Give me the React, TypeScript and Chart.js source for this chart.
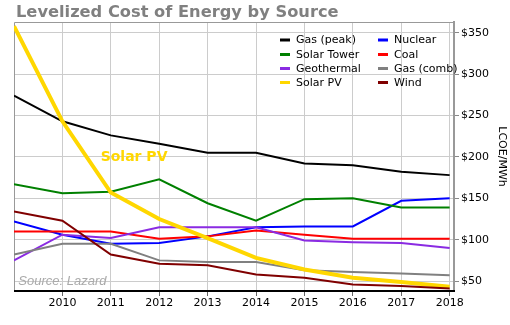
import React, { useEffect, useRef } from 'react';
import { Chart, registerables } from 'chart.js';

Chart.register(...registerables);

const years = [2009, 2010, 2011, 2012, 2013, 2014, 2015, 2016, 2017, 2018];
const gasPeak = [274, 243, 226, 216, 205, 205, 192, 190, 182, 178];
const nuclear = [122, 106, 95, 96, 104, 115, 116, 116, 147, 150];
const solarTower = [167, 156, 158, 173, 144, 123, 149, 150, 139, 139];
const coal = [110, 110, 110, 101, 104, 111, 106, 101, 101, 101];
const geothermal = [75, 106, 102, 115, 115, 115, 99, 97, 96, 90];
const gasComb = [82, 95, 95, 75, 73, 73, 63, 61, 59, 57];
const solarPV = [358, 243, 157, 125, 102, 78, 64, 54, 49, 43];
const wind = [134, 123, 82, 71, 69, 58, 54, 46, 44, 41];

const xTickYears = [2010, 2011, 2012, 2013, 2014, 2015, 2016, 2017, 2018];
const yTickValues = [50, 100, 150, 200, 250, 300, 350];

const titleText = 'Levelized Cost of Energy by Source';
const yAxisTitle = 'LCOE/MWh';
const sourceNote = 'Source: Lazard';
const solarLabel = 'Solar PV';

// legend order (row-major, 2 columns)
const legendOrder = ['Gas (peak)', 'Nuclear', 'Solar Tower', 'Coal', 'Geothermal', 'Gas (comb)', 'Solar PV', 'Wind'];

const series = [
  { label: 'Wind', data: wind, color: '#800000', width: 2 },
  { label: 'Solar PV', data: solarPV, color: '#FFD700', width: 4 },
  { label: 'Gas (comb)', data: gasComb, color: '#808080', width: 2 },
  { label: 'Geothermal', data: geothermal, color: '#8A2BE2', width: 2 },
  { label: 'Coal', data: coal, color: '#FF0000', width: 2 },
  { label: 'Solar Tower', data: solarTower, color: '#008000', width: 2 },
  { label: 'Nuclear', data: nuclear, color: '#0000FF', width: 2 },
  { label: 'Gas (peak)', data: gasPeak, color: '#000000', width: 2 },
];

const FONT = "'DejaVu Sans', Verdana, sans-serif";

const decorPlugin = {
  id: 'decor',
  beforeDatasetsDraw(chart: any) {
    const { ctx, chartArea } = chart;
    ctx.save();
    ctx.strokeStyle = '#999';
    ctx.lineWidth = 1;
    ctx.beginPath();
    ctx.moveTo(chartArea.left + 0.5, chartArea.bottom);
    ctx.lineTo(chartArea.left + 0.5, chartArea.top + 0.5);
    ctx.lineTo(chartArea.right, chartArea.top + 0.5);
    ctx.stroke();
    ctx.restore();
  },
  afterDraw(chart: any) {
    const { ctx, chartArea, scales } = chart;
    ctx.save();
    // title
    ctx.fillStyle = '#808080';
    ctx.font = "bold 16.25px " + FONT;
    ctx.textBaseline = 'alphabetic';
    ctx.textAlign = 'left';
    ctx.fillText(titleText, 16, 17);

    // legend
    ctx.font = '11px ' + FONT;
    ctx.textBaseline = 'middle';
    const colX = [280, 378];
    const rowY = [40, 54.5, 68.5, 82.5];
    legendOrder.forEach((name, i) => {
      const s = series.find((d) => d.label === name)!;
      const cx = colX[i % 2];
      const cy = rowY[Math.floor(i / 2)];
      ctx.strokeStyle = s.color;
      ctx.lineWidth = 3;
      ctx.beginPath();
      ctx.moveTo(cx, cy);
      ctx.lineTo(cx + 10, cy);
      ctx.stroke();
      ctx.fillStyle = '#000';
      ctx.fillText(name, cx + 16, cy + 0.5);
    });

    // annotations
    const x = scales.x;
    const y = scales.y;
    ctx.fillStyle = '#FFD700';
    ctx.font = 'bold 14px ' + FONT;
    ctx.textBaseline = 'middle';
    ctx.fillText(solarLabel, x.getPixelForValue(2010.79), y.getPixelForValue(199));

    ctx.fillStyle = '#aaaaaa';
    ctx.font = "italic 13px 'Liberation Sans', Arial, sans-serif";
    ctx.fillText(sourceNote, x.getPixelForValue(2009.09), y.getPixelForValue(50));

    // bottom axis line
    ctx.strokeStyle = '#000';
    ctx.lineWidth = 2;
    ctx.beginPath();
    ctx.moveTo(chartArea.left, chartArea.bottom);
    ctx.lineTo(chartArea.right + 1, chartArea.bottom);
    ctx.stroke();
    ctx.restore();
  },
};

export default function App() {
  const ref = useRef<HTMLCanvasElement | null>(null);
  useEffect(() => {
    if (!ref.current) return;
    const chart = new Chart(ref.current, {
      type: 'line',
      data: {
        datasets: series.map((s) => ({
          label: s.label,
          data: years.map((yr, i) => ({ x: yr, y: s.data[i] })),
          borderColor: s.color,
          backgroundColor: s.color,
          borderWidth: s.width,
          pointRadius: 0,
          tension: 0,
          fill: false,
        })),
      },
      options: {
        responsive: false,
        animation: false,
        devicePixelRatio: 1,
        layout: { padding: { left: 14, top: 22, right: 0, bottom: 0 } },
        plugins: {
          legend: { display: false },
          title: { display: false },
          tooltip: { enabled: false },
        },
        scales: {
          x: {
            type: 'linear',
            min: 2009,
            max: 2018.09,
            afterBuildTicks: (scale: any) => {
              scale.ticks = xTickYears.map((v) => ({ value: v }));
            },
            afterFit: (scale: any) => {
              scale.height = 34;
            },
            grid: { color: '#cccccc', lineWidth: 1, tickLength: 5, tickColor: '#666' },
            border: { display: false },
            ticks: {
              color: '#000',
              font: { family: FONT, size: 11 },
              padding: 1,
              maxRotation: 0,
              autoSkip: false,
              callback: (v: any) => String(v),
            },
          },
          y: {
            type: 'linear',
            position: 'right',
            min: 38,
            max: 363,
            afterBuildTicks: (scale: any) => {
              scale.ticks = yTickValues.map((v) => ({ value: v }));
            },
            afterFit: (scale: any) => {
              scale.width = 56;
            },
            grid: { color: '#cccccc', lineWidth: 1, tickLength: 5, tickColor: '#888' },
            border: { display: true, color: '#999', width: 2 },
            ticks: {
              color: '#000',
              font: { family: FONT, size: 11 },
              padding: 2,
              callback: (v: any) => '$' + v,
            },
            title: {
              display: true,
              text: yAxisTitle,
              color: '#000',
              font: { family: FONT, size: 11 },
              padding: 2,
            },
          },
        },
      },
      plugins: [decorPlugin],
    });
    return () => chart.destroy();
  }, []);
  return (
    <div style={{ position: 'absolute', left: 0, top: 0, width: 510, height: 325, background: '#fff' }}>
      <canvas ref={ref} width={510} height={325} style={{ display: 'block' }} />
    </div>
  );
}
